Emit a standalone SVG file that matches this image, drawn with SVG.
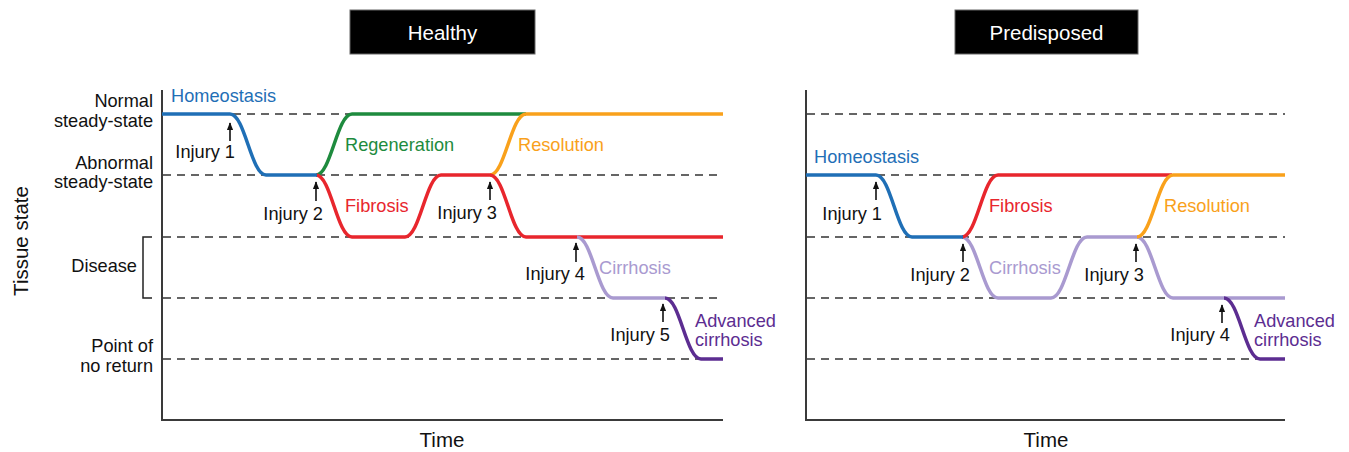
<svg xmlns="http://www.w3.org/2000/svg" width="1349" height="452" viewBox="0 0 1349 452">
<defs>
<style>
text{font-family:"Liberation Sans",Arial,Helvetica,sans-serif;font-size:18.2px;fill:#111}
.lbl{text-anchor:end}
.hdr{fill:#fff;font-size:20.5px;text-anchor:middle}
.axt{font-size:20.5px;text-anchor:middle}
.axis{fill:none;stroke:#3a3a3a;stroke-width:2}
.dash{fill:none;stroke:#333;stroke-width:1.5;stroke-dasharray:8 6}
.c{fill:none;stroke-width:3.5;stroke-linecap:butt;stroke-linejoin:round}
.blue{stroke:#1f6fb6}.tblue{fill:#1f6fb6}
.green{stroke:#1e8b3e}.tgreen{fill:#1e8b3e}
.red{stroke:#e8262d}.tred{fill:#e8262d}
.orange{stroke:#f9a11b}.torange{fill:#f9a11b}
.lpur{stroke:#a99ad0}.tlpur{fill:#a99ad0}
.dpur{stroke:#5c2d91}.tdpur{fill:#5c2d91}
.arr{stroke:#111;stroke-width:1.6;fill:none;marker-end:url(#ah)}
.box{fill:#000;stroke:#666;stroke-width:1}
</style>
<marker id="ah" viewBox="0 0 10 8" refX="9" refY="4" markerWidth="5" markerHeight="4" orient="auto" markerUnits="strokeWidth">
<path d="M0 0 L10 4 L0 8 Z" fill="#111"/>
</marker>
</defs>
<rect width="1349" height="452" fill="#fff"/>

<g id="header-healthy">
<rect class="box" x="350" y="10" width="185" height="44"/>
<text class="hdr" x="442.5" y="39.5">Healthy</text>
</g>
<g id="header-predisposed">
<rect class="box" x="955" y="10" width="183" height="44"/>
<text class="hdr" x="1046.5" y="39.5">Predisposed</text>
</g>

<g id="axis-labels">
<text class="axt" transform="translate(28 241) rotate(-90)">Tissue state</text>
<text class="lbl" x="153" y="107">Normal</text>
<text class="lbl" x="153" y="127">steady-state</text>
<text class="lbl" x="153" y="169">Abnormal</text>
<text class="lbl" x="153" y="188">steady-state</text>
<text class="lbl" x="137" y="272">Disease</text>
<text class="lbl" x="153" y="352">Point of</text>
<text class="lbl" x="153" y="372">no return</text>
<path d="M152 237 H143 V298 H152" fill="none" stroke="#222" stroke-width="1.5"/>
<text class="axt" x="442" y="447">Time</text>
<text class="axt" x="1046" y="447">Time</text>
</g>

<g id="left-panel-grid">
<path class="dash" d="M163 114 H723 M163 175 H723 M163 237 H723 M163 298 H723 M163 359 H723"/>
<path class="axis" d="M162 90 V420 H723"/>
</g>
<g id="right-panel-grid">
<path class="dash" d="M807 114 H1285 M807 175 H1285 M807 237 H1285 M807 298 H1285 M807 359 H1285"/>
<path class="axis" d="M806 90 V420 H1285"/>
</g>

<g id="connectors">
<path id="l-green" class="c green" d="M316 175 C331 175 337 114 352 114 H526"/>
<path id="l-orange" class="c orange" d="M490 175 C505 175 511 114 526 114 H723"/>
<path id="l-red" class="c red" d="M316 175 C331 175 337 237 352 237 H405 C420 237 426 175 441 175 H490 C505 175 511 237 526 237 H723"/>
<path id="l-lpur" class="c lpur" d="M577 237 C592 237 598 298 613 298 H665"/>
<path id="l-dpur" class="c dpur" d="M665 298 C680 298 686 359 701 359 H723"/>
<path id="l-blue" class="c blue" d="M162 114 H230 C245 114 251 175 266 175 H317"/>
<path id="r-lpur" class="c lpur" d="M962 237 C977 237 983 298 998 298 H1051 C1066 298 1072 237 1087 237 H1137 C1152 237 1158 298 1173 298 H1285"/>
<path id="r-red" class="c red" d="M962 237 C977 237 983 175 998 175 H1172"/>
<path id="r-orange" class="c orange" d="M1137 237 C1152 237 1158 175 1173 175 H1285"/>
<path id="r-dpur" class="c dpur" d="M1224 298 C1239 298 1245 359 1260 359 H1285"/>
<path id="r-blue" class="c blue" d="M806 175 H876 C891 175 897 237 912 237 H963"/>
<path class="arr" d="M230 141 V123"/>
<path class="arr" d="M316 201 V182"/>
<path class="arr" d="M490 200 V182"/>
<path class="arr" d="M576 262 V243"/>
<path class="arr" d="M663 322 V304"/>
<path class="arr" d="M876 200 V182"/>
<path class="arr" d="M963 262 V244"/>
<path class="arr" d="M1136 262 V244"/>
<path class="arr" d="M1222 323 V305"/>
</g>

<g id="left-labels">
<text class="tblue" x="171" y="102">Homeostasis</text>
<text class="tgreen" x="345" y="151">Regeneration</text>
<text class="torange" x="518" y="151">Resolution</text>
<text class="tred" x="345" y="212">Fibrosis</text>
<text class="tlpur" x="599" y="274">Cirrhosis</text>
<text class="tdpur" x="695" y="327">Advanced</text>
<text class="tdpur" x="695" y="346">cirrhosis</text>
<text class="lbl" x="235" y="158">Injury 1</text>
<text class="lbl" x="323" y="220">Injury 2</text>
<text class="lbl" x="497" y="219">Injury 3</text>
<text class="lbl" x="585" y="280">Injury 4</text>
<text class="lbl" x="670" y="341">Injury 5</text>
</g>
<g id="right-labels">
<text class="tblue" x="814" y="163">Homeostasis</text>
<text class="tred" x="989" y="212">Fibrosis</text>
<text class="torange" x="1164" y="212">Resolution</text>
<text class="tlpur" x="989" y="274">Cirrhosis</text>
<text class="tdpur" x="1254" y="327">Advanced</text>
<text class="tdpur" x="1254" y="346">cirrhosis</text>
<text class="lbl" x="882" y="220">Injury 1</text>
<text class="lbl" x="970" y="281">Injury 2</text>
<text class="lbl" x="1144" y="281">Injury 3</text>
<text class="lbl" x="1230" y="341">Injury 4</text>
</g>
</svg>
